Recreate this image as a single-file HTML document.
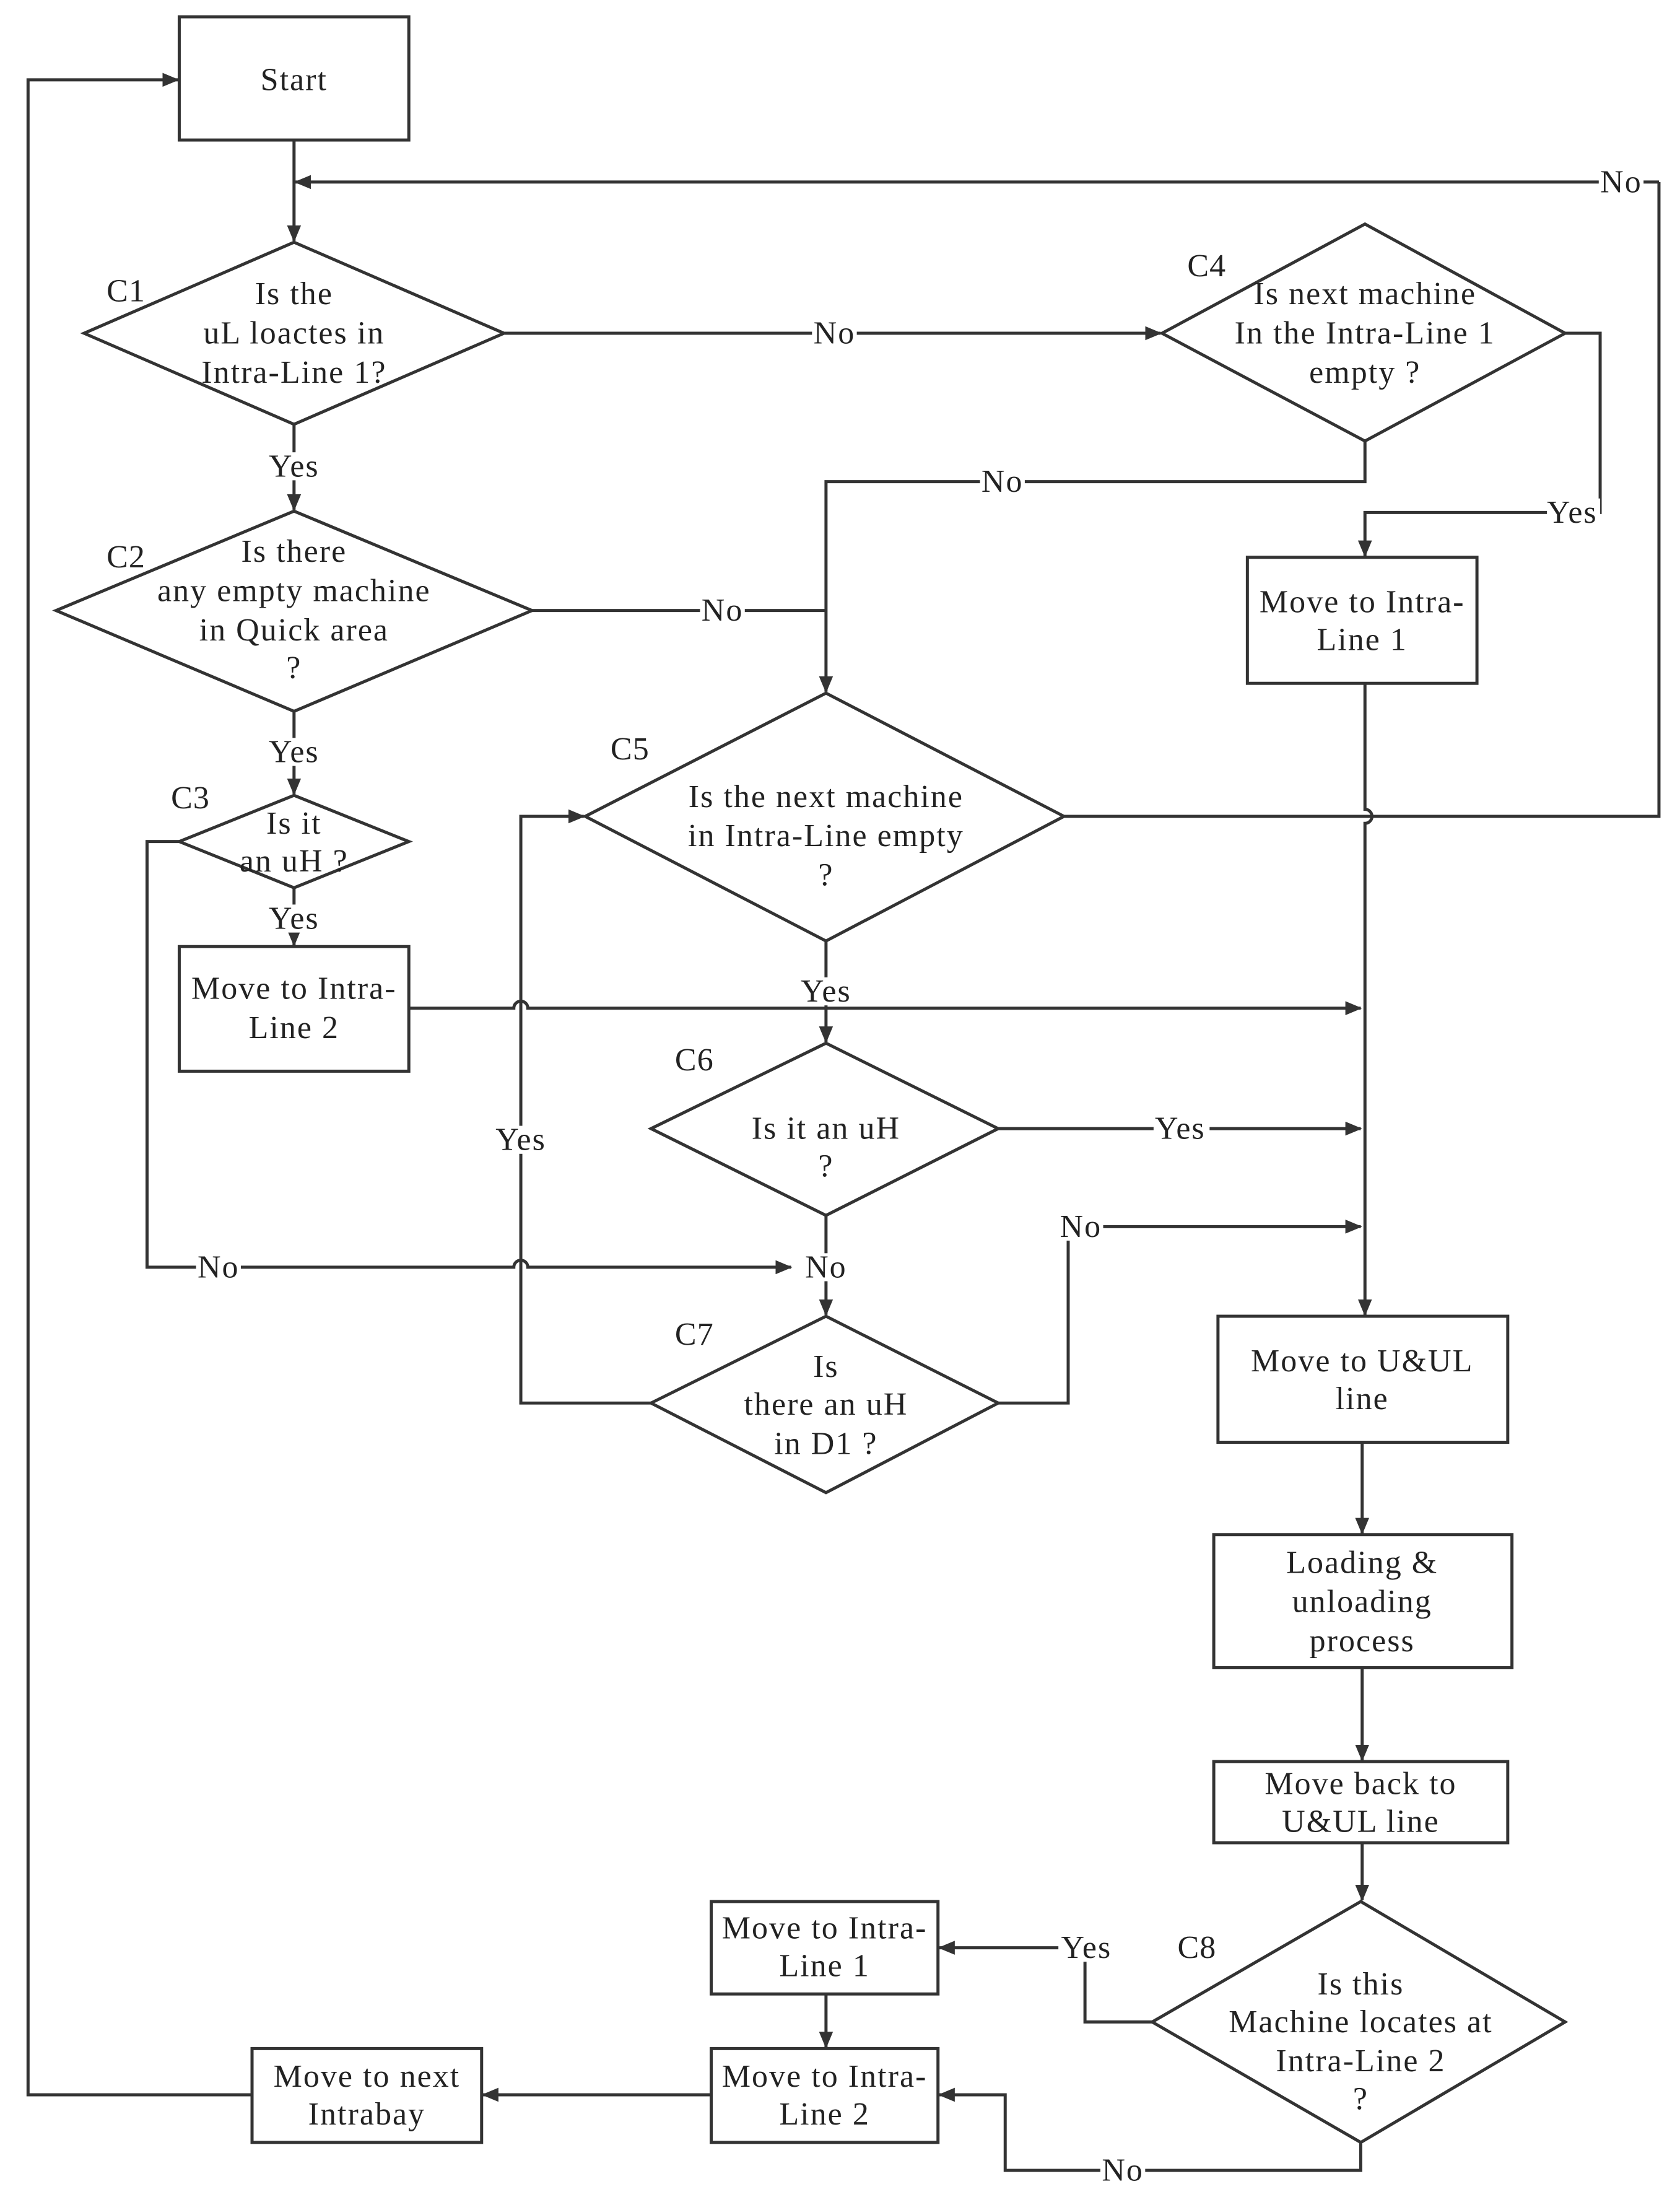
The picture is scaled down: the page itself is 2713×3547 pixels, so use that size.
<!DOCTYPE html>
<html><head><meta charset="utf-8"><style>
html,body{margin:0;padding:0;background:#fff;}
svg{display:block;}
text{font-family:"Liberation Serif",serif;font-size:23px;letter-spacing:0.9px;fill:#222;text-anchor:middle;dominant-baseline:central;}
.c{font-size:23px;letter-spacing:0.5px;}
</style></head><body>
<svg width="2713" height="3547" viewBox="0 0 1200 1569" xmlns="http://www.w3.org/2000/svg">
<defs><marker id="a" markerWidth="12" markerHeight="10" refX="11" refY="5" orient="auto" markerUnits="userSpaceOnUse"><path d="M0,0 L12,5 L0,10 z" fill="#333"/></marker></defs>
<g fill="none" stroke="#333" stroke-width="2.2">
<rect x="128" y="12" width="164" height="88"/>
<rect x="891" y="398" width="164" height="90"/>
<rect x="128" y="676" width="164" height="89"/>
<rect x="870" y="940" width="207" height="90"/>
<rect x="867" y="1096" width="213" height="95"/>
<rect x="867" y="1258" width="210" height="58"/>
<rect x="508" y="1358" width="162" height="66"/>
<rect x="508" y="1463" width="162" height="67"/>
<rect x="180" y="1463" width="164" height="67"/>
<polygon points="60,238 210,173 360,238 210,303"/>
<polygon points="830,238 975,160 1118,238 975,315"/>
<polygon points="40,436 210,365 380,436 210,508"/>
<polygon points="128,601 210,568 292,601 210,634"/>
<polygon points="418,583 590,495 760,583 590,672"/>
<polygon points="465,806 590,745 713,806 590,868"/>
<polygon points="465,1002 590,940 713,1002 590,1066"/>
<polygon points="823,1444 972,1358 1118,1444 972,1530"/>
<g marker-end="url(#a)">
<path d="M210,100 V172"/>
<path d="M1185,130 H211"/>
<path d="M360,238 H829"/>
<path d="M1118,238 H1143 V366 H975 V397"/>
<path d="M975,315 V344 H590 V494"/>
<path d="M975,488 V578 A5,5 0 0 1 975,588 V939"/>
<path d="M210,303 V364"/>
<path d="M210,508 V567"/>
<path d="M210,634 V675"/>
<path d="M292,720 H367 A5,5 0 0 1 377,720 H972"/>
<path d="M128,601 H105 V905 H367 A5,5 0 0 1 377,905 H565"/>
<path d="M590,672 V744"/>
<path d="M713,806 H972"/>
<path d="M590,868 V939"/>
<path d="M465,1002 H372 V583 H417"/>
<path d="M713,1002 H763 V876 H972"/>
<path d="M973,1030 V1095"/>
<path d="M973,1191 V1257"/>
<path d="M973,1316 V1357"/>
<path d="M823,1444 H775 V1391 H671"/>
<path d="M972,1530 V1550 H718 V1496 H671"/>
<path d="M590,1424 V1462"/>
<path d="M508,1496 H345"/>
<path d="M180,1496 H20 V57 H127"/>
</g>
<path d="M760,583 H1185 V130"/>
<path d="M380,436 H590"/>
</g>
<g>
<rect x="1142" y="120" width="32" height="20" fill="#fff"/><text x="1158" y="130">No</text>
<rect x="580" y="228" width="32" height="20" fill="#fff"/><text x="596" y="238">No</text>
<rect x="700" y="334" width="32" height="20" fill="#fff"/><text x="716" y="344">No</text>
<rect x="1105" y="356" width="38" height="20" fill="#fff"/><text x="1123" y="366">Yes</text>
<rect x="500" y="426" width="32" height="20" fill="#fff"/><text x="516" y="436">No</text>
<rect x="190" y="323" width="40" height="20" fill="#fff"/><text x="210" y="333">Yes</text>
<rect x="190" y="527" width="40" height="20" fill="#fff"/><text x="210" y="537">Yes</text>
<rect x="190" y="646" width="40" height="20" fill="#fff"/><text x="210" y="656">Yes</text>
<rect x="570" y="698" width="40" height="20" fill="#fff"/><text x="590" y="708">Yes</text>
<rect x="824" y="796" width="40" height="20" fill="#fff"/><text x="843" y="806">Yes</text>
<rect x="352" y="804" width="40" height="20" fill="#fff"/><text x="372" y="814">Yes</text>
<rect x="140" y="895" width="32" height="20" fill="#fff"/><text x="156" y="905">No</text>
<rect x="574" y="895" width="32" height="20" fill="#fff"/><text x="590" y="905">No</text>
<rect x="756" y="866" width="32" height="20" fill="#fff"/><text x="772" y="876">No</text>
<rect x="756" y="1381" width="40" height="20" fill="#fff"/><text x="776" y="1391">Yes</text>
<rect x="786" y="1540" width="32" height="20" fill="#fff"/><text x="802" y="1550">No</text>
</g>
<text x="210" y="57">Start</text>
<text x="90" y="208" class="c">C1</text>
<text x="862" y="190" class="c">C4</text>
<text x="90" y="398" class="c">C2</text>
<text x="136" y="570" class="c">C3</text>
<text x="450" y="535" class="c">C5</text>
<text x="496" y="757" class="c">C6</text>
<text x="496" y="953" class="c">C7</text>
<text x="855" y="1391" class="c">C8</text>
<text x="210" y="210">Is the</text><text x="210" y="238">uL loactes in</text><text x="210" y="266">Intra-Line 1?</text>
<text x="975" y="210">Is next machine</text><text x="975" y="238">In the Intra-Line 1</text><text x="975" y="266">empty ?</text>
<text x="973" y="430">Move to Intra-</text><text x="973" y="457">Line 1</text>
<text x="210" y="394">Is there</text><text x="210" y="422">any empty machine</text><text x="210" y="450">in Quick area</text><text x="210" y="477">?</text>
<text x="210" y="588">Is it</text><text x="210" y="615">an uH ?</text>
<text x="210" y="706">Move to Intra-</text><text x="210" y="734">Line 2</text>
<text x="590" y="569">Is the next machine</text><text x="590" y="597">in Intra-Line empty</text><text x="590" y="625">?</text>
<text x="590" y="806">Is it an uH</text><text x="590" y="833">?</text>
<text x="590" y="976">Is</text><text x="590" y="1003">there an uH</text><text x="590" y="1031">in D1 ?</text>
<text x="973" y="972">Move to U&amp;UL</text><text x="973" y="999">line</text>
<text x="973" y="1116">Loading &amp;</text><text x="973" y="1144">unloading</text><text x="973" y="1172">process</text>
<text x="972" y="1274">Move back  to</text><text x="972" y="1301">U&amp;UL line</text>
<text x="972" y="1417">Is this</text><text x="972" y="1444">Machine locates at</text><text x="972" y="1472">Intra-Line 2</text><text x="972" y="1499">?</text>
<text x="589" y="1377">Move to Intra-</text><text x="589" y="1404">Line 1</text>
<text x="589" y="1483">Move to Intra-</text><text x="589" y="1510">Line 2</text>
<text x="262" y="1483">Move to next</text><text x="262" y="1510">Intrabay</text>
</svg>
</body></html>
